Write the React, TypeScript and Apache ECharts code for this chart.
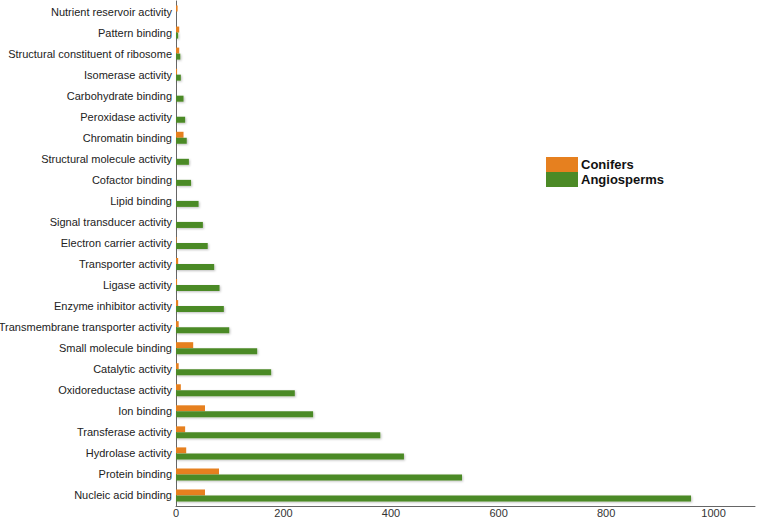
import React, { useEffect, useRef } from "react";
import * as echarts from "echarts";

const categories = [
  "Nucleic acid binding",
  "Protein binding",
  "Hydrolase activity",
  "Transferase activity",
  "Ion binding",
  "Oxidoreductase activity",
  "Catalytic activity",
  "Small molecule binding",
  "Transmembrane transporter activity",
  "Enzyme inhibitor activity",
  "Ligase activity",
  "Transporter activity",
  "Electron carrier activity",
  "Signal transducer activity",
  "Lipid binding",
  "Cofactor binding",
  "Structural molecule activity",
  "Chromatin binding",
  "Peroxidase activity",
  "Carbohydrate binding",
  "Isomerase activity",
  "Structural constituent of ribosome",
  "Pattern binding",
  "Nutrient reservoir activity",
];

const conifers = [54, 80, 19, 17, 54, 9, 5, 32, 5, 4, 2, 4, 1, 0, 0, 0, 0, 14, 0, 0, 2, 6, 6, 3];
const angiosperms = [958, 532, 424, 380, 255, 221, 177, 151, 99, 89, 81, 71, 59, 50, 42, 28, 24, 20, 17, 14, 9, 8, 4, 0];

const xTicks = [0, 200, 400, 600, 800, 1000];

export default function App() {
  const ref = useRef<HTMLDivElement>(null);
  useEffect(() => {
    if (!ref.current) return;
    const chart = echarts.init(ref.current, null, { renderer: "svg" });
    chart.setOption({
      animation: false,
      textStyle: { fontFamily: "Liberation Sans, Arial, sans-serif" },
      grid: { left: 176, right: 2, top: 1, bottom: 13, outerBoundsMode: "none", containLabel: false },
      legend: {
        orient: "vertical",
        left: 541,
        top: 152,
        itemWidth: 32,
        itemHeight: 15,
        itemGap: 0,
        icon: "rect",
        textStyle: { fontWeight: "bold", fontSize: 13, color: "#111", padding: [0, 0, 0, -2] },
        data: ["Conifers", "Angiosperms"],
      },
      xAxis: {
        type: "value",
        min: xTicks[0],
        max: 1077,
        interval: 200,
        splitLine: { show: false },
        axisTick: { show: false },
        axisLine: { show: true, lineStyle: { color: "#666", width: 1 } },
        axisLabel: {
          showMaxLabel: false,
          fontSize: 11,
          lineHeight: 11,
          color: "#333",
          margin: 1,
          formatter: (v: number) => (xTicks.includes(v) ? String(v) : ""),
        },
      },
      yAxis: {
        type: "category",
        data: categories,
        axisTick: { show: false },
        axisLine: { show: true, lineStyle: { color: "#666", width: 1 } },
        axisLabel: { fontSize: 11, color: "#222", margin: 4 },
      },
      series: [
        {
          name: "Conifers",
          type: "bar",
          data: conifers,
          barWidth: 6,
          barGap: "0%",
          itemStyle: { color: "#E6801F" },
        },
        {
          name: "Angiosperms",
          type: "bar",
          data: angiosperms,
          barWidth: 6,
          barGap: "0%",
          itemStyle: {
            color: "#4C8A26",
            shadowColor: "rgba(0,0,0,0.25)",
            shadowBlur: 2,
            shadowOffsetX: 1,
            shadowOffsetY: 1,
          },
        },
      ],
    });
    return () => chart.dispose();
  }, []);
  return <div ref={ref} style={{ width: 757, height: 519, position: "absolute", left: 0, top: 0 }} />;
}
